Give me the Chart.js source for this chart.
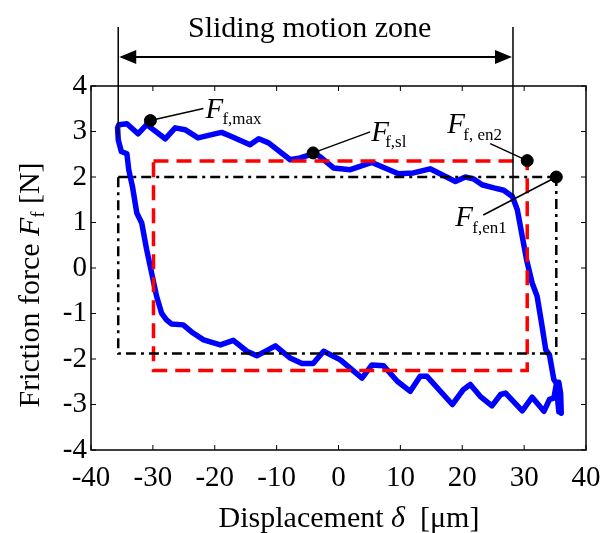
<!DOCTYPE html>
<html>
<head>
<meta charset="utf-8">
<script src="https://cdn.jsdelivr.net/npm/chart.js@4.4.1/dist/chart.umd.min.js"></script>
<style>
  html, body { margin: 0; padding: 0; background: #fff; }
  #wrap { width: 602px; height: 533px; }
</style>
</head>
<body>
<div id="wrap"><canvas id="chart" width="602" height="533"></canvas></div>
<script>
// friction loop (displacement in um, force in N)
const loopX = [36.0, 35.9, 35.6, 35.2, 34.8, 34.1, 33.5, 32.9, 32.1, 31.3, 30.4, 29.7, 28.9, 28.1, 26.7, 25.1,
  23.2, 21.8, 20.5, 18.9, 14.8, 12.1, 9.7, 5.4, 1.9, -0.8, -3.0, -4.1, -6.2, -7.8, -11.3, -12.9, -14.3, -17.3,
  -18.9, -20.5, -22.7, -24.8, -26.4, -28.0, -31.0, -32.4, -34.2, -35.5, -35.7,
  -35.6, -35.1, -34.2, -33.9, -33.3, -32.6, -31.8, -31.0, -30.2, -29.4, -28.6, -27.8, -27.0, -25.1, -23.5,
  -21.8, -19.1, -17.0, -14.8, -13.2, -10.2, -7.8, -5.9, -4.1, -2.4, 0.3, 3.8, 5.4, 7.3, 9.5, 11.6, 13.2, 14.3,
  18.4, 20.2, 21.3, 22.9, 24.8, 26.2, 27.0, 29.7, 31.3, 33.2, 34.1, 34.8, 35.2, 35.6, 35.9, 36.0];
const loopY = [-3.19, -2.75, -2.51, -2.53, -2.45, -1.91, -1.80, -1.28, -0.62, -0.33, 0.18, 0.69, 1.28, 1.57, 1.71, 1.76,
  1.83, 1.96, 2.00, 1.90, 2.18, 2.09, 2.07, 2.32, 2.16, 2.20, 2.45, 2.51, 2.42, 2.38, 2.75, 2.84, 2.71, 2.89,
  2.98, 2.93, 2.86, 3.04, 3.08, 2.84, 3.15, 2.95, 3.17, 3.15, 3.08,
  2.82, 2.56, 2.51, 2.16, 1.79, 1.21, 0.99, 0.40, -0.11, -0.62, -0.99, -1.14, -1.23, -1.25, -1.43,
  -1.58, -1.69, -1.59, -1.83, -1.93, -1.71, -1.98, -2.10, -2.10, -1.83, -2.02, -2.42, -2.13, -2.15, -2.49, -2.71, -2.38, -2.38,
  -3.00, -2.67, -2.56, -2.82, -3.03, -2.78, -2.75, -3.14, -2.84, -3.15, -2.89, -2.86, -2.56, -3.16, -2.78, -3.19];

// red dashed box and black dash-dot box
const redBoxX = [-29.9, 30.5, 30.5, -29.9, -29.9];
const redBoxY = [2.35, 2.35, -2.25, -2.25, 2.35];
const blackBoxX = [-35.6, 35.2, 35.2, -35.6, -35.6];
const blackBoxY = [2.0, 2.0, -1.88, -1.88, 2.0];

// marked points
const markerX = [-30.4, -4.1, 30.5, 35.2];
const markerY = [3.24, 2.53, 2.36, 2.0];
const markerSubs = ['f,max', 'f,sl', 'f, en2', 'f,en1'];

// sliding motion zone limits
const zoneX = [-35.6, 28.2];
const zoneLineEndY = [2.86, 1.57];

const xTickValues = [-40, -30, -20, -10, 0, 10, 20, 30, 40];
const xTickLabels = ['-40', '-30', '-20', '-10', '0', '10', '20', '30', '40'];
const yTickValues = [-4, -3, -2, -1, 0, 1, 2, 3, 4];
const yTickLabels = ['-4', '-3', '-2', '-1', '0', '1', '2', '3', '4'];

const SERIF = '"Liberation Serif", "Times New Roman", serif';

function toPoints(xs, ys) {
  return xs.map((v, i) => ({ x: v, y: ys[i] }));
}

// draws text pieces one after another on a baseline
function drawRuns(ctx, runs, x, y, align) {
  let total = 0;
  runs.forEach(r => { ctx.font = r.font; r.w = ctx.measureText(r.text).width; total += r.w; });
  let cx = align === 'center' ? x - total / 2 : x;
  ctx.textAlign = 'left';
  ctx.textBaseline = 'alphabetic';
  runs.forEach(r => {
    ctx.font = r.font;
    ctx.fillText(r.text, cx, y + (r.dy || 0));
    cx += r.w;
  });
}

// label offsets from each marker, in px
const labelOffsets = [
  { line: [53, -12], F: [55, -3], sub: [72, 3] },
  { line: [57, -21], F: [58, -12], sub: [72, -6] },
  { line: [-37, -17], F: [-80, -28], sub: [-64, -21] },
  { line: [-73, 38], F: [-101, 49], sub: [-84, 56] }
];

const overlay = {
  id: 'overlay',
  afterDraw(chart) {
    const { ctx, chartArea: a, scales } = chart;
    const x = scales.x, y = scales.y;
    ctx.save();
    ctx.fillStyle = '#000';
    ctx.strokeStyle = '#000';

    // plot box
    ctx.lineWidth = 1.5;
    ctx.strokeRect(a.left, a.top, a.right - a.left, a.bottom - a.top);

    // inward ticks on all sides
    ctx.lineWidth = 1;
    ctx.beginPath();
    xTickValues.forEach(v => {
      const px = x.getPixelForValue(v);
      ctx.moveTo(px, a.bottom); ctx.lineTo(px, a.bottom - 5);
      ctx.moveTo(px, a.top); ctx.lineTo(px, a.top + 5);
    });
    yTickValues.forEach(v => {
      const py = y.getPixelForValue(v);
      ctx.moveTo(a.left, py); ctx.lineTo(a.left + 5, py);
      ctx.moveTo(a.right, py); ctx.lineTo(a.right - 5, py);
    });
    ctx.stroke();

    // sliding motion zone
    const zl = x.getPixelForValue(zoneX[0]);
    const zr = x.getPixelForValue(zoneX[1]);
    const topY = 27, arrowY = 57;
    ctx.lineWidth = 1.5;
    ctx.beginPath();
    ctx.moveTo(zl, topY); ctx.lineTo(zl, y.getPixelForValue(zoneLineEndY[0]));
    ctx.moveTo(zr, topY); ctx.lineTo(zr, y.getPixelForValue(zoneLineEndY[1]));
    ctx.stroke();
    ctx.lineWidth = 2;
    ctx.beginPath();
    ctx.moveTo(zl + 10, arrowY); ctx.lineTo(zr - 10, arrowY);
    ctx.stroke();
    ctx.beginPath();
    ctx.moveTo(zl + 1, arrowY); ctx.lineTo(zl + 18, arrowY - 7); ctx.lineTo(zl + 18, arrowY + 7); ctx.closePath();
    ctx.moveTo(zr - 1, arrowY); ctx.lineTo(zr - 18, arrowY - 7); ctx.lineTo(zr - 18, arrowY + 7); ctx.closePath();
    ctx.fill();
    ctx.font = '30px ' + SERIF;
    ctx.textAlign = 'center';
    ctx.textBaseline = 'alphabetic';
    ctx.fillText('Sliding motion zone', (zl + zr) / 2 - 6, 37);

    // marker labels with leader lines
    markerX.forEach((mx, i) => {
      const px = x.getPixelForValue(mx), py = y.getPixelForValue(markerY[i]);
      const o = labelOffsets[i];
      ctx.lineWidth = 1.5;
      ctx.beginPath();
      ctx.moveTo(px, py); ctx.lineTo(px + o.line[0], py + o.line[1]);
      ctx.stroke();
      ctx.textAlign = 'left';
      ctx.font = 'italic 29px ' + SERIF;
      ctx.fillText('F', px + o.F[0], py + o.F[1]);
      ctx.font = '17px ' + SERIF;
      ctx.fillText(markerSubs[i], px + o.sub[0], py + o.sub[1]);
    });

    // axis titles
    drawRuns(ctx, [
      { text: 'Displacement ', font: '30px ' + SERIF },
      { text: '\u03B4', font: 'italic 30px ' + SERIF },
      { text: '  [\u03BCm]', font: '30px ' + SERIF }
    ], 349, 527, 'center');

    ctx.save();
    ctx.translate(39, 285);
    ctx.rotate(-Math.PI / 2);
    drawRuns(ctx, [
      { text: 'Friction force ', font: '30px ' + SERIF },
      { text: 'F', font: 'italic 30px ' + SERIF },
      { text: 'f', font: '18px ' + SERIF, dy: 5 },
      { text: ' [N]', font: '30px ' + SERIF }
    ], 0, 0, 'center');
    ctx.restore();

    ctx.restore();
  }
};

new Chart(document.getElementById('chart'), {
  type: 'scatter',
  data: {
    datasets: [
      {
        label: 'markers',
        data: toPoints(markerX, markerY),
        pointRadius: 6,
        pointBackgroundColor: '#000',
        pointBorderColor: '#000',
        showLine: false,
        order: 0
      },
      {
        label: 'black box',
        data: toPoints(blackBoxX, blackBoxY),
        showLine: true,
        borderColor: '#000',
        borderWidth: 2.5,
        borderDash: [10, 5, 3, 5],
        pointRadius: 0,
        order: 1
      },
      {
        label: 'red box',
        data: toPoints(redBoxX, redBoxY),
        showLine: true,
        borderColor: '#ff0000',
        borderWidth: 3.5,
        borderDash: [15, 8],
        pointRadius: 0,
        order: 2
      },
      {
        label: 'loop',
        data: toPoints(loopX, loopY),
        showLine: true,
        borderColor: '#0000ff',
        borderWidth: 5.5,
        borderJoinStyle: 'round',
        borderCapStyle: 'round',
        pointRadius: 0,
        tension: 0,
        order: 3
      }
    ]
  },
  options: {
    responsive: false,
    animation: false,
    events: [],
    layout: { padding: { top: 86, right: 16, left: 0, bottom: 0 } },
    plugins: { legend: { display: false }, tooltip: { enabled: false } },
    scales: {
      x: {
        type: 'linear',
        min: -40, max: 40,
        afterFit: s => { s.height = 83; s.paddingLeft = 0; s.paddingRight = 0; },
        afterBuildTicks: s => { s.ticks = xTickValues.map(v => ({ value: v })); },
        grid: { display: false, drawTicks: false },
        border: { display: false },
        ticks: {
          padding: 11,
          color: '#000',
          maxRotation: 0,
          font: { family: SERIF, size: 29 },
          callback: (v) => xTickLabels[xTickValues.indexOf(v)]
        }
      },
      y: {
        type: 'linear',
        min: -4, max: 4,
        afterFit: s => { s.width = 91; s.paddingTop = 0; s.paddingBottom = 0; },
        afterBuildTicks: s => { s.ticks = yTickValues.map(v => ({ value: v })); },
        grid: { display: false, drawTicks: false },
        border: { display: false },
        ticks: {
          padding: 4,
          color: '#000',
          font: { family: SERIF, size: 29 },
          callback: (v) => yTickLabels[yTickValues.indexOf(v)]
        }
      }
    }
  },
  plugins: [overlay]
});
</script>
</body>
</html>
